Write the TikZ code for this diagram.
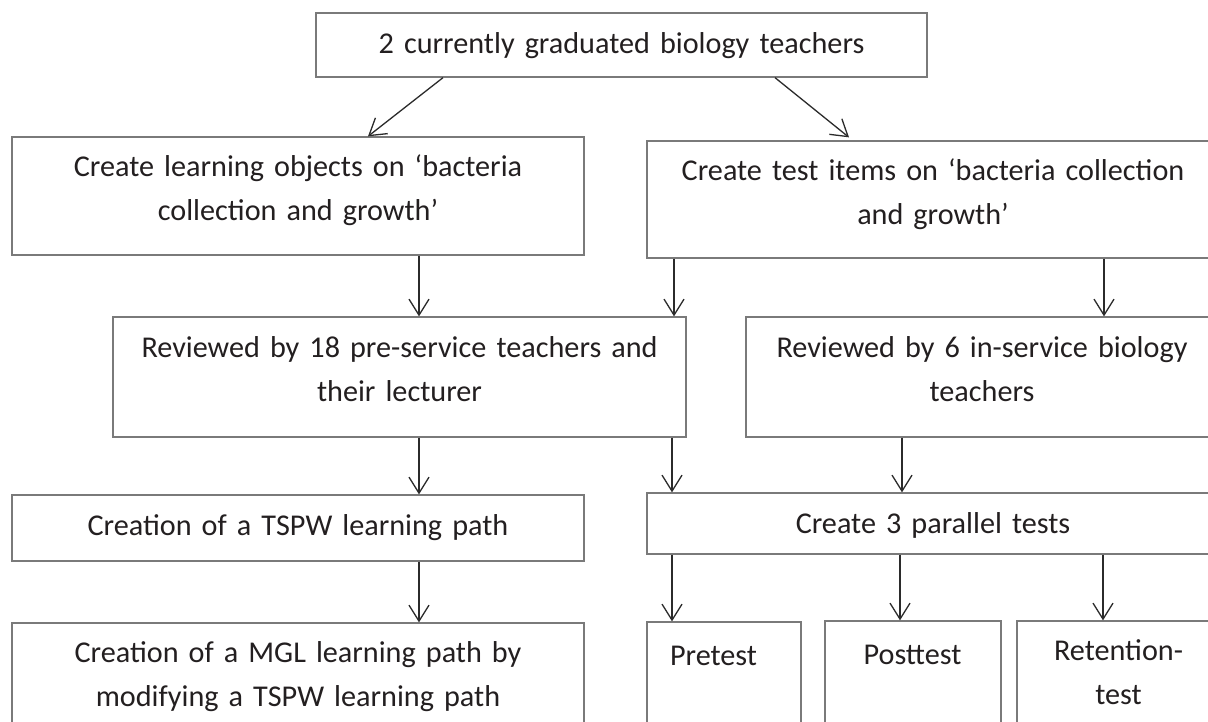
\documentclass[tikz,border=0pt]{standalone}
\usepackage{fontspec}
\setmainfont{Carlito}
\usetikzlibrary{arrows.meta}
\definecolor{boxline}{HTML}{7A7A7A}
\definecolor{arrowline}{HTML}{2B2B2B}
\definecolor{txt}{HTML}{231F20}
\tikzset{
  box/.style={draw=boxline, line width=1.3pt, rectangle, inner sep=0pt, fill=none},
  lbl/.style={text=txt, font=\fontsize{30.2}{44}\selectfont, align=center, anchor=base, inner sep=0pt, text width=#1},
  lbl/.default=566pt,
  arr/.style={draw=arrowline, line width=1.3pt, -{Straight Barb[length=16pt,width=20pt,line width=1.3pt]}}
}
\begin{document}
\begin{tikzpicture}[x=1pt,y=-1pt]
\useasboundingbox (0,0) rectangle (1208,721);
\clip (0,0) rectangle (1208,721);
\fill[white] (0,0) rectangle (1208,721);
% boxes
\node[box, minimum width=611pt, minimum height=64pt] (T) at (621.5,45) {};
\node[box, minimum width=572pt, minimum height=118pt] (A) at (298,196) {};
\node[box, minimum width=572pt, minimum height=117pt] (B) at (933,199.5) {};
\node[box, minimum width=573pt, minimum height=120pt] (C) at (399.5,377) {};
\node[box, minimum width=472pt, minimum height=120pt] (D) at (982,377) {};
\node[box, minimum width=572pt, minimum height=66pt] (E) at (298,528) {};
\node[box, minimum width=572pt, minimum height=61pt] (G) at (933,523.5) {};
\node[box, minimum width=572pt, minimum height=137pt] (F) at (298,691.5) {};
\node[box, minimum width=154pt, minimum height=138pt] (P1) at (724,691) {};
\node[box, minimum width=176pt, minimum height=139pt] (P2) at (913,690.5) {};
\node[box, minimum width=202pt, minimum height=139pt] (P3) at (1118,690.5) {};
% texts
\node[lbl] (tT) at (621.5,53) {2 currently graduated biology teachers};
\node[lbl] (tA) at (298,176) {Create learning objects on ‘bacteria\\collection and growth’};
\node[lbl] (tB) at (933,180) {Create test items on ‘bacteria collection\\and growth’};
\node[lbl] (tC) at (399.5,357) {Reviewed by 18 pre-service teachers and\\their lecturer};
\node[lbl=466pt] (tD) at (982,357) {Reviewed by 6 in-service biology\\teachers};
\node[lbl] (tE) at (298,535) {Creation of a TSPW learning path};
\node[lbl] (tG) at (933,533) {Create 3 parallel tests};
\node[lbl] (tF) at (298,662) {Creation of a MGL learning path by\\modifying a TSPW learning path};
\node[lbl=150pt] (tP1) at (713.5,665) {Pretest};
\node[lbl=170pt] (tP2) at (912.5,664) {Posttest};
\node[lbl=200pt] (tP3) at (1118.5,660) {Retention-\\test};
% column coordinates
\coordinate (c419) at (419,0);
\coordinate (c674) at (674,0);
\coordinate (c672) at (672,0);
\coordinate (c1104) at (1104,0);
\coordinate (c902) at (902,0);
\coordinate (c900) at (900,0);
\coordinate (c1103) at (1103,0);
\coordinate (s1) at (443,0);
\coordinate (e1) at (368,0);
\coordinate (s2) at (775,0);
\coordinate (e2) at (849,0);
% arrows
\draw[arr] (T.south -| s1) -- (A.north -| e1);
\draw[arr] (T.south -| s2) -- ([yshift=3pt]B.north -| e2);
\draw[arr] (A.south -| c419) -- (C.north -| c419);
\draw[arr] (B.south -| c674) -- (C.north -| c674);
\draw[arr] (B.south -| c1104) -- (D.north -| c1104);
\draw[arr] (C.south -| c419) -- (E.north -| c419);
\draw[arr] (C.south -| c672) -- (G.north -| c672);
\draw[arr] (D.south -| c902) -- (G.north -| c902);
\draw[arr] (E.south -| c419) -- (F.north -| c419);
\draw[arr] (G.south -| c672) -- (P1.north -| c672);
\draw[arr] (G.south -| c900) -- (P2.north -| c900);
\draw[arr] (G.south -| c1103) -- (P3.north -| c1103);
\end{tikzpicture}
\end{document}
